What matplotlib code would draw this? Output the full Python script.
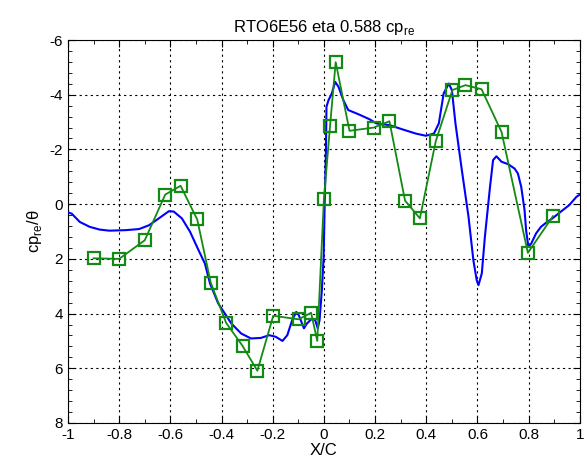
import matplotlib
matplotlib.use('Agg')
from matplotlib import pyplot
from matplotlib.ticker import MultipleLocator

pyplot.rcParams['font.family'] = ['Liberation Sans', 'DejaVu Sans']
pyplot.rcParams['axes.unicode_minus'] = False

# blue curve (computed cp_re/theta)
calc_x = [-1.0, -0.985, -0.954, -0.915, -0.876, -0.838, -0.773, -0.722, -0.683, -0.645,
          -0.606, -0.587, -0.555, -0.523, -0.49, -0.465, -0.445, -0.413, -0.387, -0.362,
          -0.323, -0.285, -0.246, -0.214, -0.188, -0.162, -0.143, -0.124, -0.108, -0.098,
          -0.078, -0.066, -0.046, -0.034, -0.024, -0.017, -0.008, -0.001, 0.003, 0.008,
          0.01, 0.018, 0.031, 0.044, 0.057, 0.076, 0.095, 0.134, 0.179, 0.205,
          0.256, 0.308, 0.359, 0.398, 0.43, 0.449, 0.468, 0.488, 0.5, 0.514,
          0.539, 0.565, 0.584, 0.597, 0.604, 0.617, 0.629, 0.649, 0.661, 0.674,
          0.694, 0.72, 0.745, 0.758, 0.771, 0.784, 0.79, 0.799, 0.81, 0.829,
          0.848, 0.868, 0.893, 0.925, 0.958, 0.987, 1.0]
calc_cp = [0.3, 0.35, 0.65, 0.83, 0.93, 0.97, 0.95, 0.91, 0.77, 0.52,
           0.26, 0.27, 0.52, 1.01, 1.68, 2.17, 2.9, 3.63, 4.0, 4.36,
           4.73, 4.91, 4.89, 4.79, 4.85, 5.0, 4.79, 4.24, 3.94, 4.06,
           4.54, 4.36, 4.18, 4.24, 4.54, 4.24, 3.14, 1.93, -0.03, -1.97,
           -3.56, -3.8, -4.05, -4.47, -4.29, -3.8, -3.44, -3.29, -3.1, -2.95,
           -2.89, -2.73, -2.58, -2.5, -2.58, -2.95, -4.05, -4.41, -4.17, -2.95,
           -1.24, 0.46, 2.05, 2.78, 2.96, 2.53, 1.19, -0.63, -1.61, -1.75,
           -1.55, -1.46, -1.3, -1.12, -0.63, 0.22, 0.95, 1.56, 1.44, 1.07,
           0.83, 0.68, 0.52, 0.28, 0.04, -0.27, -0.35]

# green squares (measured cp_re/theta)
exp_x = [-0.9, -0.8, -0.7, -0.62, -0.56, -0.495, -0.442, -0.382, -0.318, -0.26,
         -0.198, -0.099, -0.05, -0.026, 0.0, 0.024, 0.046, 0.1, 0.195, 0.256,
         0.317, 0.375, 0.437, 0.502, 0.553, 0.616, 0.694, 0.797, 0.895]
exp_cp = [1.98, 2.0, 1.32, -0.35, -0.67, 0.56, 2.88, 4.34, 5.18, 6.09,
          4.08, 4.21, 3.97, 5.0, -0.18, -2.86, -5.19, -2.68, -2.8, -3.03,
          -0.13, 0.52, -2.3, -4.17, -4.35, -4.2, -2.64, 1.78, 0.44]

fig = pyplot.figure(figsize=(5.87, 4.63), dpi=100)
ax = fig.add_axes([0.1158, 0.0864, 0.872, 0.8272])

ax.plot(calc_x, calc_cp, color='#0000ff', linewidth=1.5, zorder=3)
ax.plot(exp_x, exp_cp, color='#138a13', linewidth=1.3, marker='s', markersize=9,
        markerfacecolor='none', markeredgecolor='#138a13', markeredgewidth=1.6, zorder=4)

ax.set_xlim(-1, 1)
ax.set_ylim(8, -6)
ax.set_xticks([-1, -0.8, -0.6, -0.4, -0.2, 0, 0.2, 0.4, 0.6, 0.8, 1])
ax.set_xticklabels(['-1', '-0.8', '-0.6', '-0.4', '-0.2', '0', '0.2', '0.4', '0.6', '0.8', '1'])
ax.set_yticks([-6, -4, -2, 0, 2, 4, 6, 8])
ax.xaxis.set_minor_locator(MultipleLocator(0.1))
ax.yaxis.set_minor_locator(MultipleLocator(0.4))
ax.tick_params(which='both', direction='in', top=True, right=True, labelsize=11)
ax.tick_params(which='major', length=5)
ax.tick_params(which='minor', length=3)
ax.grid(True, which='major', color='black', linestyle=(0, (2, 3)), linewidth=0.8)

ax.set_title('RTO6E56 eta 0.588 cp$_{\\mathregular{re}}$', fontsize=12)
ax.set_xlabel('X/C', fontsize=12, labelpad=1)
ax.set_ylabel('cp$_{\\mathregular{re}}$/θ', fontsize=12, labelpad=4)

fig.savefig('out.png', dpi=100)
